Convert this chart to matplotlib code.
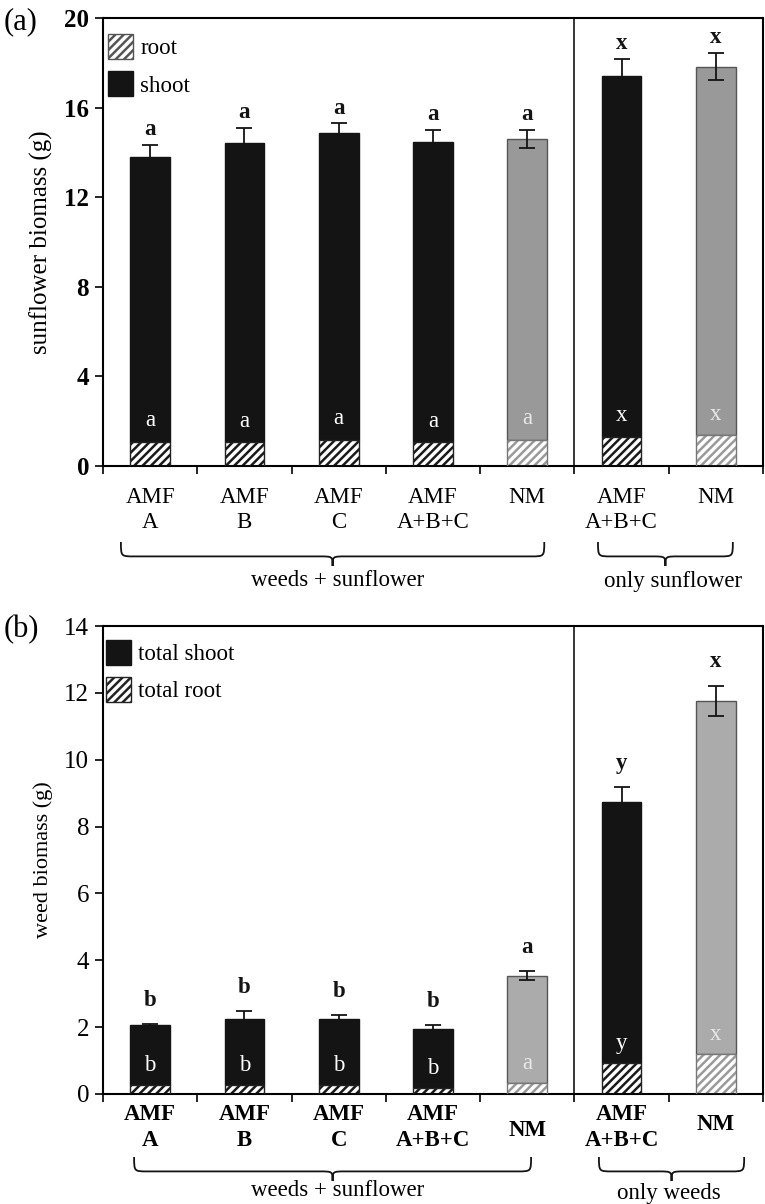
import matplotlib
matplotlib.use("Agg")
import matplotlib.pyplot as plt
from matplotlib.path import Path
from matplotlib.patches import PathPatch, Patch
from matplotlib.transforms import blended_transform_factory, offset_copy
import numpy as np

plt.rcParams['font.family'] = ['Liberation Serif', 'DejaVu Serif']
plt.rcParams['hatch.linewidth'] = 1.8

# ---------------- data ----------------
line1 = ["AMF", "AMF", "AMF", "AMF", "NM", "AMF", "NM"]
line2 = ["A", "B", "C", "A+B+C", "", "A+B+C", ""]
is_nm = [False, False, False, False, True, False, True]

# (a) sunflower biomass
sun_total = [13.8, 14.4, 14.85, 14.45, 14.6, 17.42, 17.83]
sun_err = [0.55, 0.7, 0.45, 0.55, 0.4, 0.75, 0.6]
sun_root = [1.07, 1.05, 1.15, 1.05, 1.15, 1.3, 1.37]
sun_top_letters = ["a", "a", "a", "a", "a", "x", "x"]
sun_root_letters = ["a", "a", "a", "a", "a", "x", "x"]
sun_groups = ["weeds + sunflower", "only sunflower"]

# (b) weed biomass
weed_total = [2.05, 2.24, 2.24, 1.94, 3.54, 8.75, 11.77]
weed_err = [0.05, 0.23, 0.11, 0.11, 0.13, 0.42, 0.45]
weed_root = [0.28, 0.28, 0.28, 0.18, 0.34, 0.93, 1.21]
weed_top_letters = ["b", "b", "b", "b", "a", "y", "x"]
weed_root_letters = ["b", "b", "b", "b", "a", "y", "x"]
weed_groups = ["weeds + sunflower", "only weeds"]

W, H = 765, 1204
fig = plt.figure(figsize=(W / 100, H / 100), dpi=100)

def fy(px):
    return 1 - px / H

ax1 = fig.add_axes([103 / W, fy(466), 660 / W, 448 / H])
ax2 = fig.add_axes([103 / W, fy(1094), 660 / W, 468 / H])

x = np.arange(len(line1))
bw = 0.42
BLACK = "#141414"
FS = 16.5

def draw_panel(ax, total, err, root, top_letters, root_letters, nm_color,
               ymax, ystep, letter_off_pt, inner_off, ybold):
    shoot_colors = [nm_color if n else BLACK for n in is_nm]
    shoot_edge = ["#555555" if n else BLACK for n in is_nm]
    shoot = [t - r for t, r in zip(total, root)]
    ax.bar(x, shoot, bw, bottom=root, color=shoot_colors, edgecolor=shoot_edge,
           linewidth=1.0, zorder=2)
    ax.errorbar(x, total, yerr=err, fmt="none", ecolor=BLACK, elinewidth=1.3,
                capsize=6, capthick=1.3, zorder=3)
    hatch_cols = ["#9a9a9a" if n else "#1a1a1a" for n in is_nm]
    ax.bar(x, root, bw, color="white", edgecolor=hatch_cols, hatch="////",
           linewidth=0, zorder=2)
    ax.bar(x, root, bw, fill=False, edgecolor=["#777777" if n else "#222222" for n in is_nm],
           linewidth=1.0, zorder=4)
    for i in x:
        tr = offset_copy(ax.transData, fig=fig, x=0, y=letter_off_pt, units="points")
        ax.text(i, total[i] + err[i], top_letters[i], transform=tr, ha="center",
                va="center", fontsize=FS, fontweight="bold", color=BLACK)
        ax.text(i, root[i] + inner_off, root_letters[i], ha="center", va="center",
                fontsize=FS, color="#e8e8e8" if is_nm[i] else "white", zorder=5)
    ax.set_xlim(-0.5, 6.5)
    ax.set_ylim(0, ymax)
    ticks = np.arange(0, ymax + 0.01, ystep)
    ax.set_yticks(ticks)
    ax.set_yticklabels([f"{v:g}" for v in ticks],
                       fontsize=18, fontweight="bold" if ybold else "normal")
    ax.set_xticks(np.arange(-0.5, 6.6, 1.0))
    ax.set_xticklabels([])
    ax.tick_params(axis="both", direction="out", length=6, width=1.2)
    ax.tick_params(axis="y", pad=4)
    for s in ax.spines.values():
        s.set_linewidth(1.5)
    ax.axvline(4.5, color=BLACK, linewidth=1.2)

draw_panel(ax1, sun_total, sun_err, sun_root, sun_top_letters, sun_root_letters,
           "#999999", 20, 4, 11, 0.95, True)
draw_panel(ax2, weed_total, weed_err, weed_root, weed_top_letters, weed_root_letters,
           "#ababab", 14, 2, 17, 0.58, False)

ax1.set_ylabel("sunflower biomass (g)", fontsize=18, labelpad=8)
ax2.set_ylabel("weed biomass (g)", fontsize=16, labelpad=8)

fig.text(4 / W, fy(22), "(a)", fontsize=22, va="center", ha="left")
fig.text(4 / W, fy(630), "(b)", fontsize=22, va="center", ha="left")

def cat_labels(ax, y1, y2, bold, nm_mid):
    tr = blended_transform_factory(ax.transData, fig.transFigure)
    fw = "bold" if bold else "normal"
    for i in x:
        if is_nm[i] and nm_mid is not None:
            ax.text(i, fy(nm_mid[i]), line1[i], transform=tr, ha="center", va="center",
                    fontsize=FS, fontweight=fw)
        else:
            ax.text(i, fy(y1), line1[i], transform=tr, ha="center", va="center",
                    fontsize=FS, fontweight=fw)
            if line2[i]:
                ax.text(i, fy(y2), line2[i], transform=tr, ha="center", va="center",
                        fontsize=FS, fontweight=fw)

cat_labels(ax1, 497, 523, False, None)
cat_labels(ax2, 1115, 1141, True, {4: 1130, 6: 1124})

def brace(ax, x0, x1, ytop, ybot, r=0.14):
    tr = blended_transform_factory(ax.transData, fig.transFigure)
    yt, yb = fy(ytop), fy(ybot)
    yl = yt + 0.6 * (yb - yt)
    xm = (x0 + x1) / 2
    verts = [(x0, yt),
             (x0, yl), (x0, yl), (x0 + r, yl),
             (xm - r, yl),
             (xm, yl), (xm, yl), (xm, yb),
             (xm, yl), (xm, yl), (xm + r, yl),
             (x1 - r, yl),
             (x1, yl), (x1, yl), (x1, yt)]
    codes = [Path.MOVETO,
             Path.CURVE4, Path.CURVE4, Path.CURVE4,
             Path.LINETO,
             Path.CURVE4, Path.CURVE4, Path.CURVE4,
             Path.CURVE4, Path.CURVE4, Path.CURVE4,
             Path.LINETO,
             Path.CURVE4, Path.CURVE4, Path.CURVE4]
    p = PathPatch(Path(verts, codes), transform=tr, fill=False, edgecolor=BLACK,
                  linewidth=1.3, clip_on=False)
    ax.add_patch(p)
    return xm

tr1 = blended_transform_factory(ax1.transData, fig.transFigure)
m = brace(ax1, -0.31, 4.18, 542, 566)
ax1.text(m + 0.05, fy(581), sun_groups[0], transform=tr1, ha="center", va="center", fontsize=FS)
m = brace(ax1, 4.75, 6.18, 542, 566)
ax1.text(5.55, fy(581), sun_groups[1], transform=tr1, ha="center", va="center", fontsize=FS)

tr2 = blended_transform_factory(ax2.transData, fig.transFigure)
m = brace(ax2, -0.17, 4.04, 1157, 1181)
ax2.text(m + 0.05, fy(1190), weed_groups[0], transform=tr2, ha="center", va="center", fontsize=FS)
m = brace(ax2, 4.76, 6.3, 1157, 1181)
ax2.text(5.5, fy(1193), weed_groups[1], transform=tr2, ha="center", va="center", fontsize=FS)

ax1.legend(handles=[Patch(facecolor="white", edgecolor="#555555", hatch="////"),
                    Patch(facecolor=BLACK, edgecolor=BLACK)],
           labels=["root", "shoot"], loc="upper left", frameon=False,
           bbox_to_anchor=(0.008, 0.965),
           fontsize=FS, handlelength=1.1, handleheight=1.3, handletextpad=0.3,
           borderaxespad=0.0, borderpad=0.0, labelspacing=0.55)
ax2.legend(handles=[Patch(facecolor=BLACK, edgecolor=BLACK),
                    Patch(facecolor="white", edgecolor="#222222", hatch="////")],
           labels=["total shoot", "total root"], loc="upper left", frameon=False,
           bbox_to_anchor=(0.004, 0.97),
           fontsize=FS, handlelength=1.1, handleheight=1.3, handletextpad=0.3,
           borderaxespad=0.0, borderpad=0.0, labelspacing=0.5)

fig.savefig("out.png", dpi=100)
